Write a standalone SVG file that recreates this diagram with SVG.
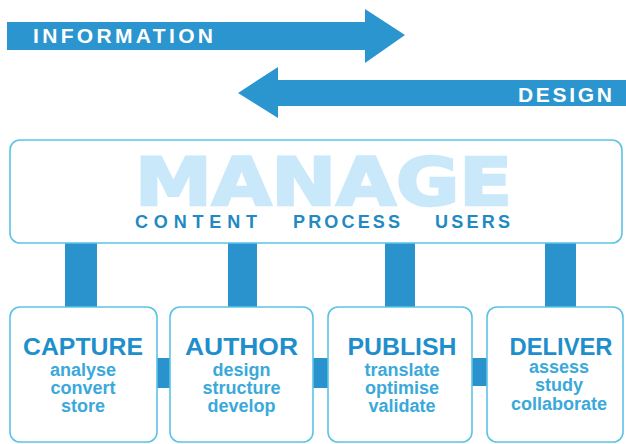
<svg xmlns="http://www.w3.org/2000/svg" width="626" height="444" viewBox="0 0 626 444">
<style>
.arrow{fill:#2a95cf}
.arrowtxt{fill:#ffffff;font-family:"Liberation Sans",Arial,sans-serif;font-weight:bold;font-size:21px}
.box{fill:#ffffff;stroke:#5cc3e6;stroke-width:1.6}
.bar{fill:#2a92cc}
.manage{fill:#c9e8fa;stroke:#c9e8fa;stroke-width:2.5;font-family:"DejaVu Sans",sans-serif;font-weight:bold;font-size:66px}
.sub3{fill:#2289c2;font-family:"Liberation Sans",Arial,sans-serif;font-weight:bold;font-size:18px}
.title{fill:#1f8fcb;font-family:"Liberation Sans",Arial,sans-serif;font-weight:bold;font-size:24px;text-anchor:middle}
.item{fill:#3aa9da;font-family:"Liberation Sans",Arial,sans-serif;font-weight:bold;font-size:18px;text-anchor:middle}
</style>
<rect width="626" height="444" fill="#ffffff"/>
<g id="information">
<polygon class="arrow" points="7,22 365,22 365,9 405,35 365,63 365,50 7,50"/>
<text class="arrowtxt" x="33" y="43" textLength="180" lengthAdjust="spacing">INFORMATION</text>
</g>
<g id="design">
<polygon class="arrow" points="626,80 278,80 278,67 238,93 278,118 278,106 626,106"/>
<text class="arrowtxt" x="518" y="102" textLength="94" lengthAdjust="spacing">DESIGN</text>
</g>
<g id="connectors">
<rect class="bar" x="65" y="243" width="32" height="65"/>
<rect class="bar" x="228" y="243" width="29" height="65"/>
<rect class="bar" x="385" y="243" width="30" height="65"/>
<rect class="bar" x="545" y="243" width="31" height="65"/>
<rect class="bar" x="156" y="358" width="15" height="30"/>
<rect class="bar" x="312" y="358" width="17" height="30"/>
<rect class="bar" x="471" y="358" width="17" height="28"/>
</g>
<g id="manage">
<rect class="box" x="10" y="140" width="612" height="103" rx="10"/>
<text class="manage" x="135" y="205" textLength="377" lengthAdjust="spacingAndGlyphs">MANAGE</text>
<text class="sub3" x="135" y="228" textLength="122" lengthAdjust="spacing">CONTENT</text>
<text class="sub3" x="293" y="228" textLength="107" lengthAdjust="spacing">PROCESS</text>
<text class="sub3" x="435" y="228" textLength="75" lengthAdjust="spacing">USERS</text>
</g>
<g id="capture">
<rect class="box" x="10" y="307" width="147" height="135" rx="10"/>
<text class="title" x="83" y="355" textLength="120" lengthAdjust="spacingAndGlyphs">CAPTURE</text>
<text class="item" x="83" y="376">analyse</text>
<text class="item" x="83" y="394">convert</text>
<text class="item" x="83" y="412">store</text>
</g>
<g id="author">
<rect class="box" x="170" y="307" width="143" height="135" rx="10"/>
<text class="title" x="241.5" y="355" textLength="113" lengthAdjust="spacingAndGlyphs">AUTHOR</text>
<text class="item" x="241.5" y="376">design</text>
<text class="item" x="241.5" y="394">structure</text>
<text class="item" x="241.5" y="412">develop</text>
</g>
<g id="publish">
<rect class="box" x="328" y="307" width="144" height="135" rx="10"/>
<text class="title" x="402" y="355" textLength="109" lengthAdjust="spacingAndGlyphs">PUBLISH</text>
<text class="item" x="402" y="376">translate</text>
<text class="item" x="402" y="394">optimise</text>
<text class="item" x="402" y="412">validate</text>
</g>
<g id="deliver">
<rect class="box" x="487" y="307" width="136" height="135" rx="10"/>
<text class="title" x="561" y="355" textLength="103" lengthAdjust="spacingAndGlyphs">DELIVER</text>
<text class="item" x="559" y="373">assess</text>
<text class="item" x="559" y="391">study</text>
<text class="item" x="559" y="410">collaborate</text>
</g>
</svg>
